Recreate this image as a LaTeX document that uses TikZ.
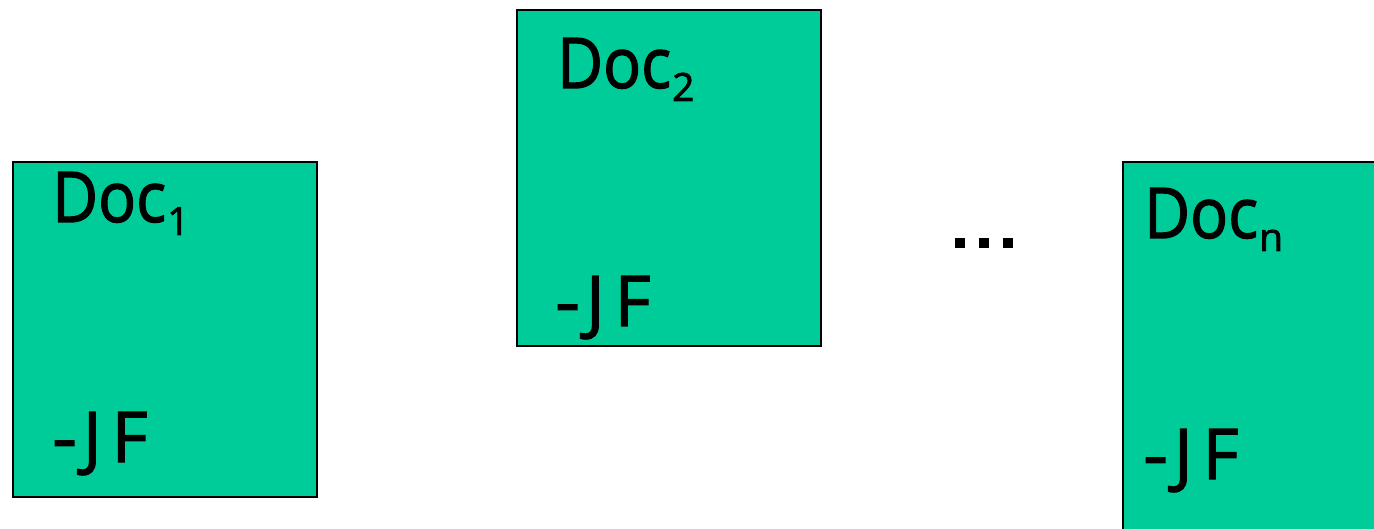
\documentclass[tikz,border=0pt]{standalone}
\usepackage{fontspec}
\setmainfont{Open Sans}
\newfontfamily\docfont{Open Sans}[FakeBold=1.8]
\definecolor{docgreen}{HTML}{00CC99}
\tikzset{
  docbox/.style={draw=black, line width=2pt, fill=docgreen},
  doclabel/.style={anchor=base west, inner sep=0pt, font=\docfont\fontsize{70}{76}\selectfont},
  dotsq/.style={fill=black, draw=none, minimum size=9.5pt, inner sep=0pt}
}
\newcommand{\docsub}[1]{\raisebox{-13pt}{\fontsize{39}{42}\selectfont #1}}
\newcommand{\doctext}[1]{\scalebox{0.9}[1]{Doc}\kern1pt\docsub{#1}}
\newcommand{\jfmark}{\scalebox{1.1}[1]{-}\kern6pt J\kern10pt F}
\begin{document}
\begin{tikzpicture}[x=1pt,y=-1pt]
\useasboundingbox (0,0) rectangle (1374,529);
\begin{scope}
\clip (0,0) rectangle (1374,529);
\draw[docbox] (13,162) rectangle (317,497);
\draw[docbox] (517,10) rectangle (821,346);
\draw[docbox] (1123,162) rectangle (1430,560);
\end{scope}
\node[doclabel] (d1) at (52,222) {\doctext{1}};
\node[doclabel] (j1) at (52,462) {\jfmark};
\node[doclabel] (d2) at (557,88) {\doctext{2}};
\node[doclabel] (j2) at (555,326) {\jfmark};
\node[doclabel] (d3) at (1144,238) {\doctext{n}};
\node[doclabel] (j3) at (1143,479) {\jfmark};
\node[dotsq] (p1) at (960,243) {};
\node[dotsq] (p2) at (984,243) {};
\node[dotsq] (p3) at (1008,243) {};
\end{tikzpicture}
\end{document}
